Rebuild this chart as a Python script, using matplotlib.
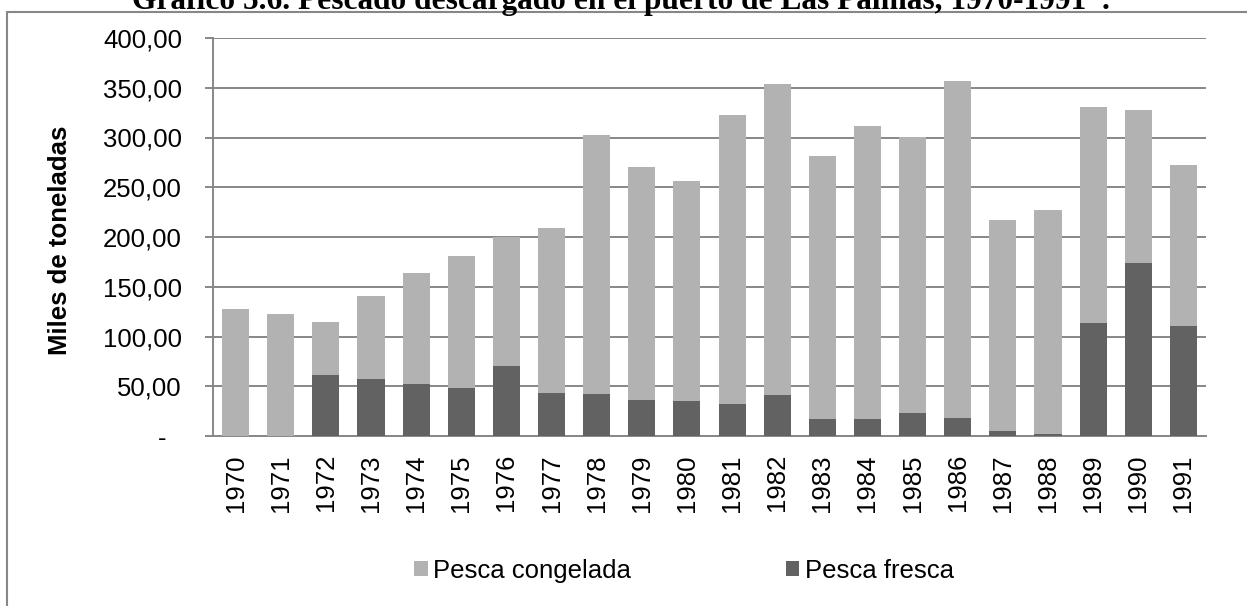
import matplotlib
matplotlib.use("Agg")
import matplotlib.pyplot as plt
import matplotlib.transforms as mtransforms
from matplotlib.patches import Patch, Rectangle
from matplotlib.ticker import FuncFormatter, MultipleLocator

# Fish landed at the port of Las Palmas (thousand tonnes)
years = [str(y) for y in range(1970, 1992)]
pesca_fresca = [0.0, 0.0, 61.1, 57.0, 52.3, 48.3, 70.1, 43.3, 42.0, 35.9, 34.9,
                32.6, 40.9, 16.8, 17.1, 23.5, 18.1, 5.4, 2.0, 113.7, 174.0, 110.4]
pesca_congelada = [127.2, 123.1, 53.3, 83.5, 111.1, 132.5, 129.5, 165.7, 260.2,
                   234.7, 221.6, 290.4, 312.6, 264.9, 294.5, 277.3, 338.7, 211.9,
                   225.1, 216.7, 153.7, 161.6]

title = "Gráfico 5.6. Pescado descargado en el puerto de Las Palmas, 1970-1991*."
ylabel = "Miles de toneladas"
label_congelada = "Pesca congelada"
label_fresca = "Pesca fresca"

C_CONG = "#b2b2b2"
C_FRES = "#626262"
C_AXIS = "#878787"
FS = 18.5

plt.rcParams["font.family"] = ["Liberation Sans", "DejaVu Sans"]

W, H = 1247, 606
fig = plt.figure(figsize=(W / 100, H / 100), dpi=100)
ax = fig.add_axes([213 / W, 1 - 436 / H, (1206 - 213) / W, (436 - 38) / H])

x = list(range(len(years)))
ax.bar(x, pesca_fresca, width=0.6, color=C_FRES, zorder=3)
ax.bar(x, pesca_congelada, width=0.6, bottom=pesca_fresca, color=C_CONG, zorder=3)

ax.set_xlim(-0.5, len(years) - 0.5)
ax.set_ylim(0, 400)
ax.yaxis.set_major_locator(MultipleLocator(50))


def fmt(v, _pos):
    if abs(v) < 1e-9:
        return "-"
    return f"{v:,.2f}".replace(",", "X").replace(".", ",").replace("X", ".")


ax.yaxis.set_major_formatter(FuncFormatter(fmt))
ax.grid(axis="y", color=C_AXIS, linewidth=1.4, zorder=0)
ax.set_axisbelow(True)

for side in ("top", "right"):
    ax.spines[side].set_visible(False)
for side in ("left", "bottom"):
    ax.spines[side].set_color(C_AXIS)
    ax.spines[side].set_linewidth(1.4)

ax.set_xticks(x)
ax.set_xticklabels(years, rotation=90, fontsize=FS)
ax.tick_params(axis="x", length=0, pad=13)
ax.tick_params(axis="y", direction="out", length=5.8, width=1.4, color=C_AXIS,
               pad=16.5, labelsize=FS)

# the dash for zero sits a little further left, as in accounting format
fig.canvas.draw()
for lab in ax.get_yticklabels():
    if lab.get_text() == "-":
        lab.set_transform(lab.get_transform() +
                          mtransforms.ScaledTranslation(-16 / 100, 0, fig.dpi_scale_trans))

fig.text(60 / W, 1 - 240 / H, ylabel, rotation=90, ha="center", va="center",
         fontsize=FS, fontweight="bold")

fig.text(621 / W, 1 - 9 / H, title, ha="center", va="baseline",
         fontsize=22.6, fontweight="bold", family=["Liberation Serif", "DejaVu Serif"])

# outer frame of the chart area
fig.patches.append(Rectangle((7 / W, -0.1), 1.2, 1 - 12 / H + 0.1,
                             transform=fig.transFigure, fill=False,
                             edgecolor=C_AXIS, linewidth=1.5))

handles = [Patch(facecolor=C_CONG, edgecolor="none"),
           Patch(facecolor=C_FRES, edgecolor="none")]
fig.legend(handles, [label_congelada, label_fresca], loc="center",
           bbox_to_anchor=(684 / W, 1 - 571 / H), ncol=2, frameon=False,
           fontsize=FS, handlelength=0.53, handleheight=0.53,
           handletextpad=0.23, columnspacing=6.0, borderpad=0, borderaxespad=0)

fig.savefig("out.png", dpi=100)
